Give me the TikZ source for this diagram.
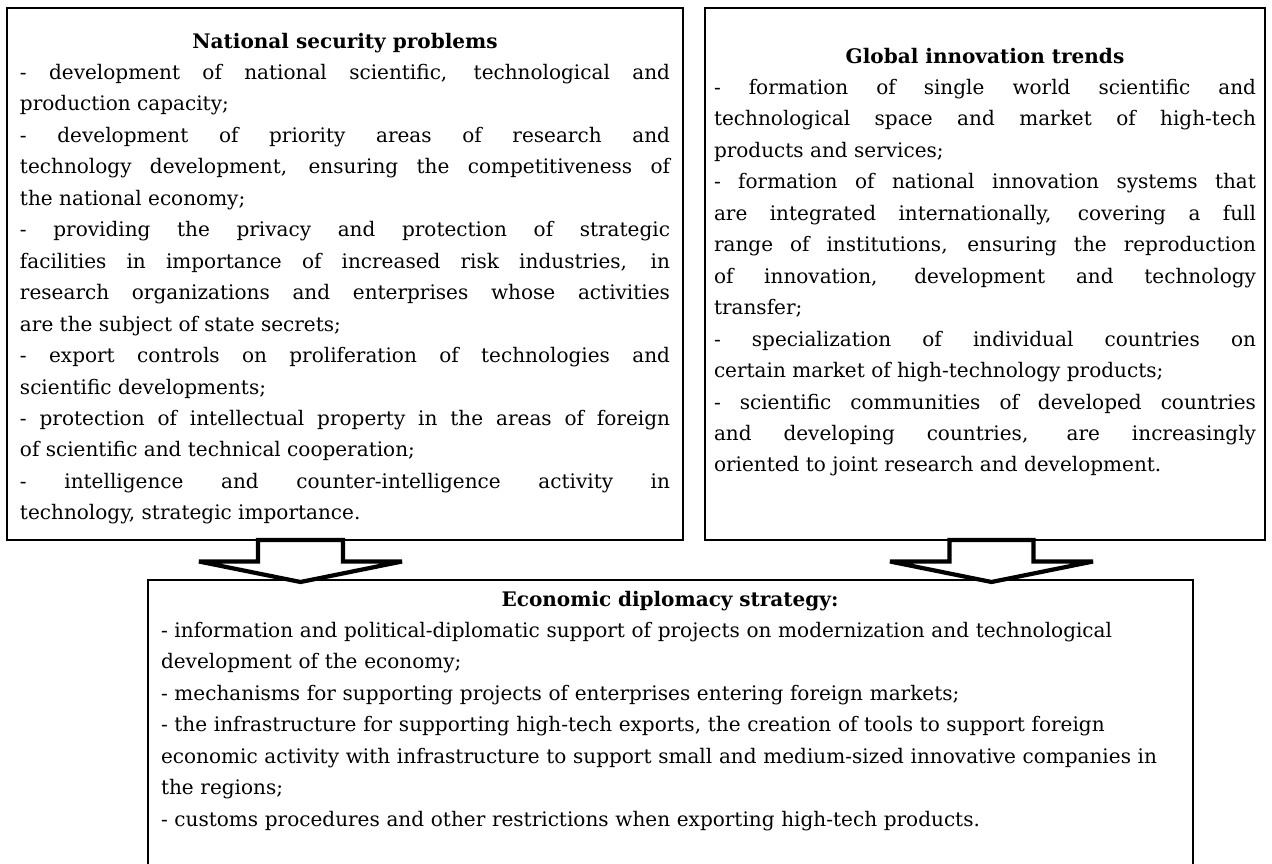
\documentclass[tikz,border=0pt]{standalone}
\usepackage{fontspec}
\setmainfont{DejaVu Serif}
\usepackage{tikz}

\tolerance=10000
\hyphenpenalty=10000
\exhyphenpenalty=10000

\tikzset{
  box/.style={line width=1.5pt},
  txt/.style={inner sep=0pt, anchor=north, align=justify,
    font=\fontsize{11.4}{17.9}\selectfont},
  blockarrow/.style={line width=2.4pt, fill=white},
}

\begin{document}
\begin{tikzpicture}
\useasboundingbox (0,0) rectangle (25.44,17.26);
% frames
\draw[box] (0.14,6.46) rectangle (13.66,17.10);
\draw[box] (14.10,6.46) rectangle (25.30,17.10);
\draw[box] (2.96,-1) rectangle (23.86,5.66);
% left frame
\node[txt, text width=13cm] (security) at (6.9,16.61) {%
{\centering\bfseries National security problems\par}
- development of national scientific, technological and\linebreak
production capacity;\par
- development of priority areas of research and\linebreak
technology development, ensuring the competitiveness of\linebreak
the national economy;\par
- providing the privacy and protection of strategic\linebreak
facilities in importance of increased risk industries, in\linebreak
research organizations and enterprises whose activities\linebreak
are the subject of state secrets;\par
- export controls on proliferation of technologies and\linebreak
scientific developments;\par
- protection of intellectual property in the areas of foreign\linebreak
of scientific and technical cooperation;\par
- intelligence and counter-intelligence activity in\linebreak
technology, strategic importance.};
% right frame
\node[txt, text width=10.84cm] (trends) at (19.7,16.31) {%
{\centering\bfseries Global innovation trends\par}
- formation of single world scientific and\linebreak
technological space and market of high-tech\linebreak
products and services;\par
- formation of national innovation systems that\linebreak
are integrated internationally, covering a full\linebreak
range of institutions, ensuring the reproduction\linebreak
of innovation, development and technology\linebreak
transfer;\par
- specialization of individual countries on\linebreak
certain market of high-technology products;\par
- scientific communities of developed countries\linebreak
and developing countries, are increasingly\linebreak
oriented to joint research and development.};
% bottom frame
\node[txt, text width=20.36cm, align=left] (strategy) at (13.4,5.45) {%
{\centering\bfseries Economic diplomacy strategy:\par}
- information and political-diplomatic support of projects on modernization and technological\\
development of the economy;\\
- mechanisms for supporting projects of enterprises entering foreign markets;\\
- the infrastructure for supporting high-tech exports, the creation of tools to support foreign\\
economic activity with infrastructure to support small and medium-sized innovative companies in\\
the regions;\\
- customs procedures and other restrictions when exporting high-tech products.};
% block arrows
\draw[blockarrow] (5.16,6.46) -- (5.16,6.03) -- (3.98,6.03) -- (6.01,5.62)
  -- (8.04,6.03) -- (6.86,6.03) -- (6.86,6.46) -- cycle;
\draw[blockarrow] (18.99,6.46) -- (18.99,6.03) -- (17.80,6.03) -- (19.83,5.62)
  -- (21.86,6.03) -- (20.67,6.03) -- (20.67,6.46) -- cycle;
\end{tikzpicture}
\end{document}
